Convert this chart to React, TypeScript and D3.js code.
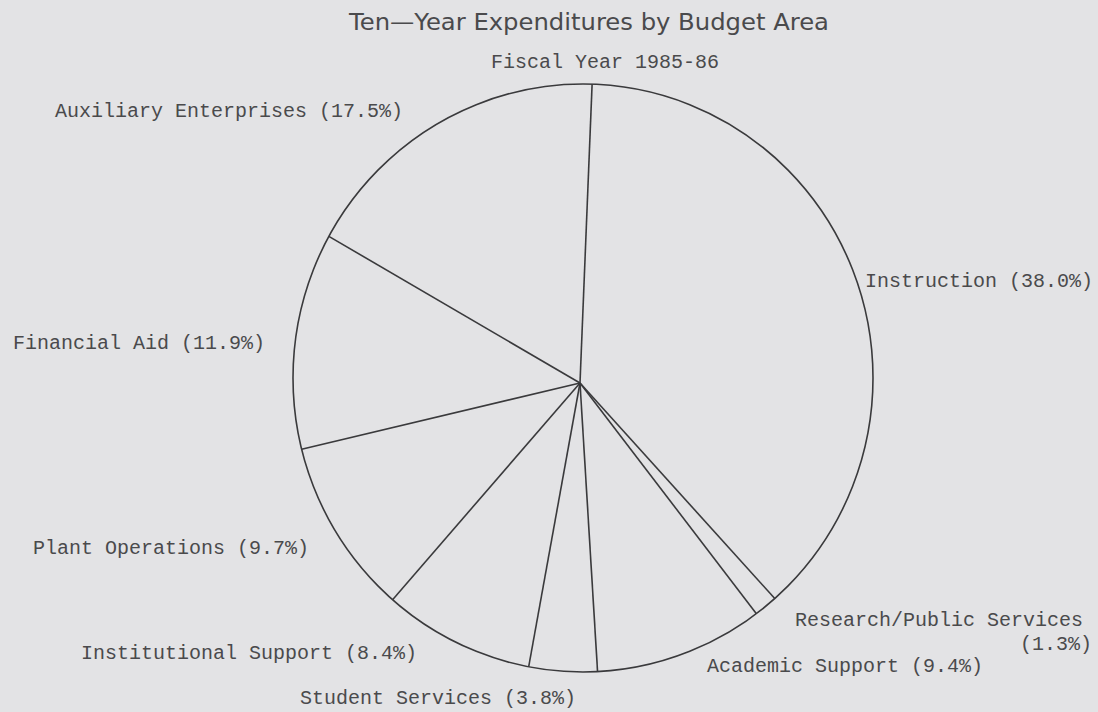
import React from "react";
import * as d3 from "d3";

const categories = [
  "Instruction",
  "Research/Public Services",
  "Academic Support",
  "Student Services",
  "Institutional Support",
  "Plant Operations",
  "Financial Aid",
  "Auxiliary Enterprises",
];
const percents = [38.0, 1.3, 9.4, 3.8, 8.4, 9.7, 11.9, 17.5];
const titleText = "Ten\u2014Year Expenditures by Budget Area";
const subtitleText = "Fiscal Year 1985-86";

const W = 1098;
const H = 712;
const cx = 583;
const cy = 378;
const rx = 290;
const ry = 294;
const hub = { x: 580, y: 383 };
const startDeg = 1.8;

// label placement (layout only)
const labelLayout: Record<string, { x: number; y: number }> = {
  Instruction: { x: 865, y: 287 },
  "Research/Public Services": { x: 795, y: 626 },
  "Academic Support": { x: 707, y: 672 },
  "Student Services": { x: 300, y: 704 },
  "Institutional Support": { x: 81, y: 659 },
  "Plant Operations": { x: 33, y: 554 },
  "Financial Aid": { x: 13, y: 349 },
  "Auxiliary Enterprises": { x: 55, y: 117 },
};

const ink = "#3a3a3c";
const textInk = "#4a4a4c";
const mono = "'Liberation Mono', 'Courier New', monospace";

export default function App() {
  const data = categories.map((c, i) => ({ name: c, value: percents[i] }));
  const start = (startDeg * Math.PI) / 180;
  const arcs = d3
    .pie<{ name: string; value: number }>()
    .sort(null)
    .value((d) => d.value)
    .startAngle(start)
    .endAngle(start + 2 * Math.PI)(data);

  const pt = (a: number) => ({ x: cx + rx * Math.sin(a), y: cy - ry * Math.cos(a) });

  return (
    <div style={{ position: "absolute", left: 0, top: 0 }}>
      <svg width={W} height={H} style={{ display: "block", background: "#e3e3e5" }}>
        <rect x={0} y={0} width={W} height={H} fill="#e3e3e5" />
        <text
          x={349}
          y={30}
          fontFamily="'DejaVu Sans', sans-serif"
          fontSize={23}
          fill={textInk}
          textLength={480}
          lengthAdjust="spacingAndGlyphs"
        >
          {titleText}
        </text>
        <text x={491} y={68} fontFamily={mono} fontSize={20} fill={textInk}>
          {subtitleText}
        </text>
        <ellipse cx={cx} cy={cy} rx={rx} ry={ry} fill="none" stroke={ink} strokeWidth={1.6} />
        {arcs.map((a, i) => {
          const p = pt(a.startAngle);
          return (
            <line key={i} x1={hub.x} y1={hub.y} x2={p.x} y2={p.y} stroke={ink} strokeWidth={1.6} />
          );
        })}
        {arcs.map((a, i) => {
          const name = a.data.name;
          const lay = labelLayout[name];
          const pct = `(${a.data.value.toFixed(1)}%)`;
          if (name === "Research/Public Services") {
            return (
              <g key={i} fontFamily={mono} fontSize={20} fill={textInk}>
                <text x={lay.x} y={lay.y}>{name}</text>
                <text x={1092} y={lay.y + 24} textAnchor="end">{pct}</text>
              </g>
            );
          }
          return (
            <text key={i} x={lay.x} y={lay.y} fontFamily={mono} fontSize={20} fill={textInk}>
              {`${name} ${pct}`}
            </text>
          );
        })}
      </svg>
    </div>
  );
}
